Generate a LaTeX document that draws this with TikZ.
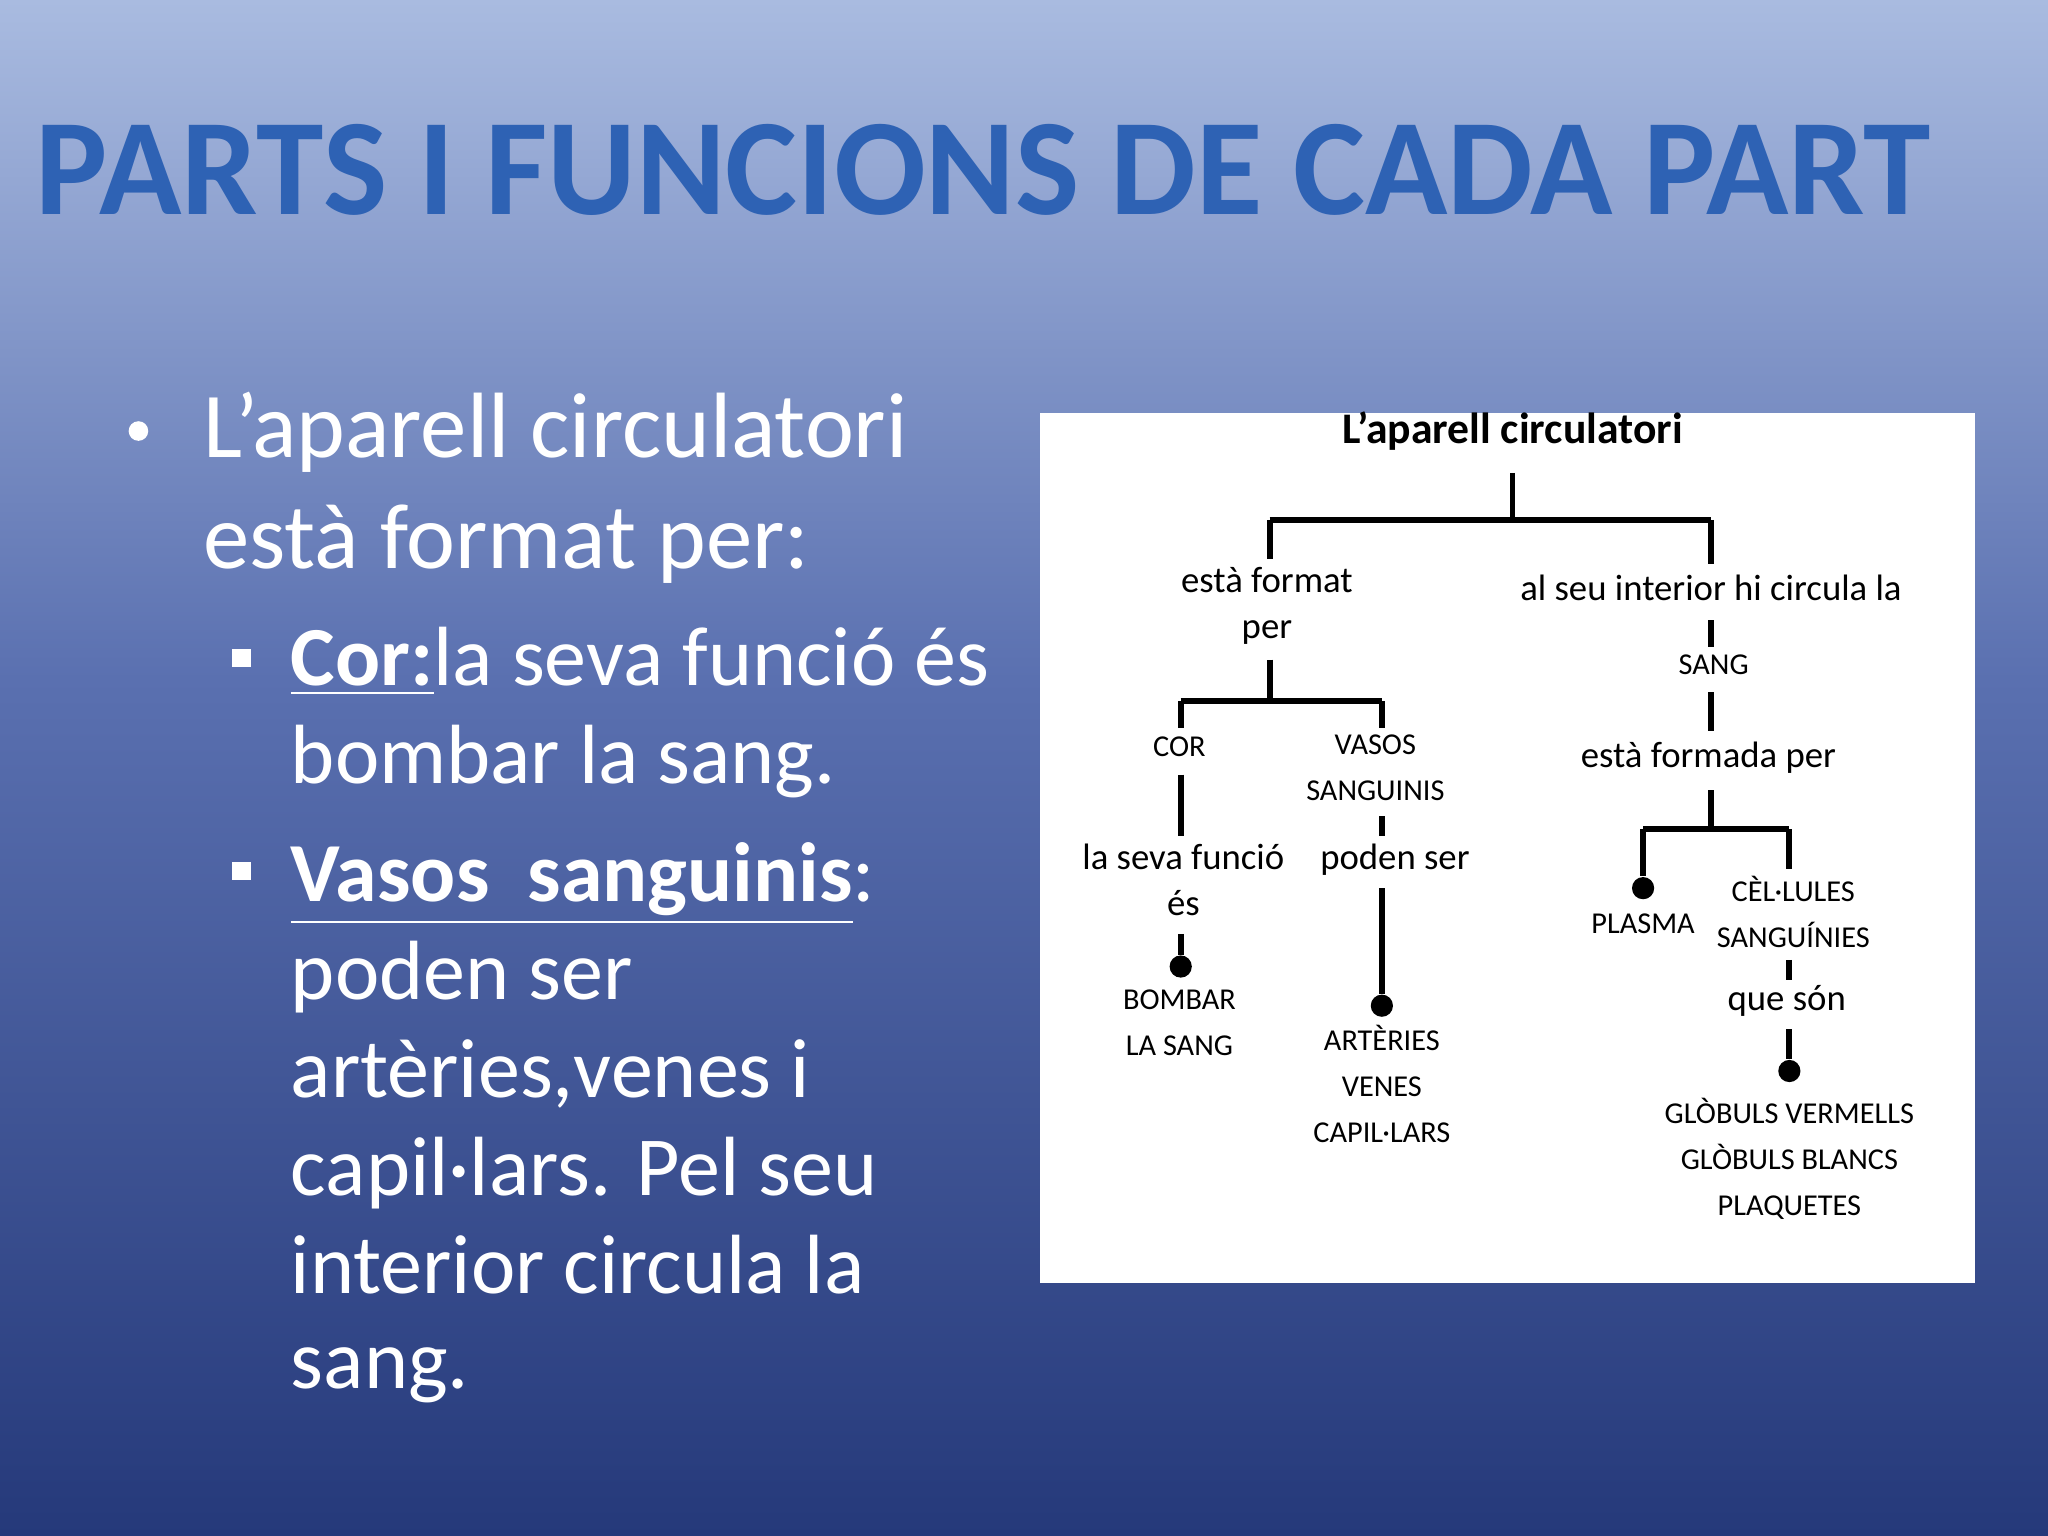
\documentclass[tikz,border=0pt]{standalone}
\usepackage{fontspec}
\usepackage{graphicx}
\setmainfont{Carlito}
\newfontfamily\hand{Carlito}
\definecolor{bgtop}{HTML}{A9BBE0}
\definecolor{bgmid}{HTML}{5A70B0}
\definecolor{bgbot}{HTML}{25397A}
\definecolor{titleblue}{HTML}{2E62B4}
\begin{document}
\begin{tikzpicture}[x=0.01cm,y=-0.01cm,
  txt/.style={text=white,anchor=base west,inner sep=0},
  dg/.style={font=\hand\fontsize{8}{9}\selectfont,inner sep=0,align=center},
  dcap/.style={font=\hand\fontsize{6.6}{8}\selectfont,inner sep=0,align=center},
  ln/.style={line width=1.3pt},
  dot/.style={circle,fill=black,inner sep=0,minimum size=0.17cm}]
\useasboundingbox (0,0) rectangle (1568,1176);
\shade[top color=bgtop,bottom color=bgmid] (0,0) rectangle (1568,520);
\shade[top color=bgmid,bottom color=bgbot] (0,520) rectangle (1568,1176);
\node (title) at (753,130) {\resizebox{14.5cm}{0.69cm}{\bfseries\color{titleblue}PARTS I FUNCIONS DE CADA PART}};
% bullets
\node[circle,fill=white,inner sep=0,minimum size=0.15cm] (b1) at (106,330) {};
\node[txt,font=\fontsize{20.2}{24}\selectfont] (l1) at (155,350) {L’aparell circulatori};
\node[txt,font=\fontsize{20.2}{24}\selectfont] (l2) at (155,435) {està format per:};
\fill[white] (178,497) rectangle (192,511);
\node[txt,font=\fontsize{18.3}{22}\selectfont] (l3) at (222,525) {\textbf{\underline{Cor:}}la seva funció és};
\node[txt,font=\fontsize{18.3}{22}\selectfont] (l4) at (222,600) {bombar la sang.};
\fill[white] (178,660) rectangle (192,674);
\node[txt,font=\fontsize{18.3}{22}\selectfont] (l5) at (222,690) {\textbf{\underline{Vasos\ \ sanguinis}}:};
\node[txt,font=\fontsize{18.3}{22}\selectfont] (l6) at (222,765) {poden ser};
\node[txt,font=\fontsize{18.3}{22}\selectfont] (l7) at (222,840) {artèries,venes i};
\node[txt,font=\fontsize{18.3}{22}\selectfont] (l8) at (222,915) {capil·lars. Pel seu};
\node[txt,font=\fontsize{18.3}{22}\selectfont] (l9) at (222,990) {interior circula la};
\node[txt,font=\fontsize{18.3}{22}\selectfont] (l10) at (222,1063) {sang.};
% white box
\fill[white] (796,316) rectangle (1512,982);
\node[font=\hand\bfseries\fontsize{9.5}{11}\selectfont,inner sep=0] (root) at (1158,330) {L’aparell circulatori};
\coordinate (r1) at (1158,398);
\coordinate (jl) at (972,398);
\coordinate (jr) at (1310,398);
\draw[ln] (1158,362) -- (r1);
\draw[ln] (jl|-r1) -- (jr);
\node[dg] (ef) at (970,464) {està format\\[1pt]per};
\draw[ln] (jl) -- (972,428);
\node[dg] (inter) at (1310,450) {al seu interior hi circula la};
\draw[ln] (jr) -- (1310,432);
\node[dcap] (sang) at (1312,509) {SANG};
\draw[ln] (1310,475) -- (1310,495);
\node[dg] (efp) at (1308,580) {està formada per};
\draw[ln] (1310,530) -- (1310,560);
% left branch
\coordinate (cl) at (904,537);
\coordinate (cr) at (1058,537);
\draw[ln] (972,505) -- (972,537);
\draw[ln] (cl) -- (cr);
\node[dcap] (cor) at (903,572) {COR};
\node[dcap] (vasos) at (1053,588) {VASOS\\[2pt]SANGUINIS};
\draw[ln] (cl) -- (904,557);
\draw[ln] (cr) -- (1058,557);
\node[dg] (lsf) at (906,674) {la seva funció\\[1pt]és};
\draw[ln] (904,593) -- (904,640);
\node[dot] (d1) at (904,740) {};
\draw[ln] (904,715) -- (d1);
\node[dcap] (bomb) at (903,783) {BOMBAR\\[2pt]LA SANG};
\node[dg] (ps) at (1068,658) {poden ser};
\draw[ln] (1058,625) -- (1058,640);
\node[dot] (d2) at (1058,770) {};
\draw[ln] (1058,680) -- (d2);
\node[dcap] (art) at (1058,830) {ARTÈRIES\\[2pt]VENES\\[2pt]CAPIL·LARS};
% right branch
\coordinate (ql) at (1258,635);
\coordinate (qr) at (1370,635);
\draw[ln] (1310,605) -- (1310,635);
\draw[ln] (ql) -- (qr);
\node[dot] (d3) at (1258,680) {};
\draw[ln] (ql) -- (d3);
\draw[ln] (qr) -- (1370,665);
\node[dcap] (plasma) at (1258,707) {PLASMA};
\node[dcap] (cel) at (1373,698) {CÈL·LULES\\[2pt]SANGUÍNIES};
\draw[ln] (1370,735) -- (1370,750);
\node[dg] (qs) at (1368,766) {que són};
\node[dot] (d4) at (1370,820) {};
\draw[ln] (1370,788) -- (d4);
\node[dcap] (glob) at (1370,887) {GLÒBULS VERMELLS\\[2pt]GLÒBULS BLANCS\\[2pt]PLAQUETES};
\end{tikzpicture}
\end{document}
